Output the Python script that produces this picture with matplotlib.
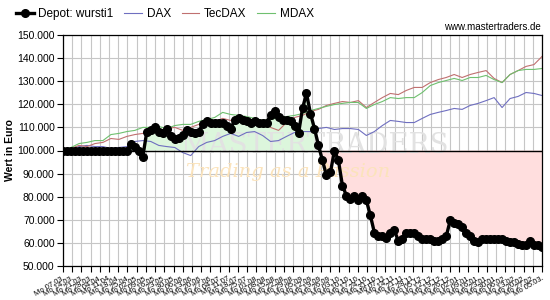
import numpy as np
import pandas as pd
import matplotlib
matplotlib.use('Agg')
import matplotlib.pyplot as plt

plt.rcParams.update({
    'font.family': ['Liberation Sans', 'DejaVu Sans'],
    'font.size': 7.5,
})

# ── Data (values in Euro) ────────────────────────────────────────────────────
depot = [
    100000, 100000, 100000, 100000, 100000, 100000, 100000, 100000, 100000, 100000,
    100000, 100000, 100000, 100000, 100000, 100000, 100000, 103000, 101700, 100000,
    97400, 108200, 108700, 110000, 108200, 107400, 109100, 106100, 104800, 105600,
    106500, 108700, 108200, 107400, 108200, 111300, 112600, 112100, 111700, 112100,
    111700, 110400, 109100, 113400, 113900, 113000, 112600, 112100, 112600, 112100,
    111700, 112100, 115200, 116900, 114700, 113400, 113000, 112600, 110400, 107400,
    118200, 124700, 116000, 109500, 102200, 95700, 89200, 90500, 100000, 95700,
    84800, 80500, 79200, 80500, 78400, 80100, 78400, 71900, 64500, 62800,
    63200, 62300, 64100, 65400, 61000, 61900, 64100, 64500, 64500, 62800,
    61900, 61900, 61900, 61000, 61000, 61500, 62800, 69700, 68400, 68000,
    66700, 64500, 62800, 61000, 60200, 61500, 61900, 61900, 61900, 61500,
    61500, 61000, 60200, 60600, 59700, 59300, 59300, 61000, 59300, 58900,
    58400,
]

dax = [
    100000, 100400, 101700, 102200, 101700, 101700, 100900, 101300, 101700, 103900,
    104300, 103900, 102200, 101700, 101300, 99100, 97800, 101700, 103500, 104300,
    106100, 107400, 106100, 107800, 108200, 106500, 103900, 104300, 106100, 107800,
    108200, 108200, 109500, 110000, 109100, 109500, 109500, 109100, 106500, 108200,
    110800, 113000, 112600, 112100, 112100, 113900, 115600, 116500, 117300, 118200,
    117800, 119500, 120400, 121600, 122900, 118600, 122500, 123400, 125100, 124700,
    123800,
]

tecdax = [
    100000, 100900, 102200, 101700, 103000, 103500, 105200, 104800, 106100, 106900,
    107400, 108200, 108700, 109500, 110000, 108700, 110000, 111300, 111700, 112600,
    113900, 113000, 114300, 113900, 113000, 112600, 110000, 108700, 112100, 114300,
    115200, 116900, 117800, 119500, 120400, 121200, 120800, 121600, 118600, 120800,
    122900, 124700, 124200, 126000, 127300, 127300, 129400, 130700, 131600, 132900,
    131600, 132900, 133800, 134600, 131200, 129400, 132900, 134600, 136400, 137200,
    140700,
]

mdax = [
    100000, 101300, 103000, 103500, 104300, 104300, 106900, 107400, 108200, 108700,
    110000, 110000, 110400, 109500, 110800, 111300, 111300, 112600, 113400, 114300,
    116500, 115600, 115200, 114700, 113900, 113000, 113400, 114300, 114700, 115200,
    116000, 117300, 118200, 119100, 119900, 120400, 120800, 120800, 118200, 119900,
    121200, 122900, 122500, 122900, 122900, 125100, 128100, 129400, 130300, 131200,
    130300, 131600, 131600, 132500, 130700, 129400, 132900, 134600, 135100, 135100,
    135500,
]

week_dates = pd.date_range('2011-03-07', periods=53, freq='7D')
tick_labels = ['Mo ' + d.strftime('%d.%m.') for d in week_dates]

y_ticks = [50000, 60000, 70000, 80000, 90000, 100000,
           110000, 120000, 130000, 140000, 150000]
y_tick_labels = [f'{v:,}'.replace(',', '.') for v in y_ticks]

# ── Colours ──────────────────────────────────────────────────────────────────
C_DAX = '#6f6fc0'
C_TEC = '#c07070'
C_MDAX = '#6fc06f'
FILL_UP = '#dcf6dc'
FILL_DN = '#ffdede'
GRID = '#c6c6c6'

n_weeks = len(tick_labels) - 1
x_dep = np.linspace(0, n_weeks, len(depot))
x_idx = np.linspace(0, n_weeks, len(dax))
dep = np.array(depot)

fig = plt.figure(figsize=(5.5, 3.0), dpi=100)
ax = fig.add_axes([63 / 550, 34 / 300, 479 / 550, 231 / 300])

ax.fill_between(x_dep, dep, 100000, where=dep >= 100000, interpolate=True,
                color=FILL_UP, lw=0, zorder=1)
ax.fill_between(x_dep, dep, 100000, where=dep <= 100000, interpolate=True,
                color=FILL_DN, lw=0, zorder=1)

# watermark
ax.text(0.526, 0.52, 'MASTERTRADERS', transform=ax.transAxes, ha='center',
        va='center', fontsize=20, family='DejaVu Serif', color='#e2e2e2',
        zorder=1.5)
ax.text(0.47, 0.405, 'Trading as a Passion', transform=ax.transAxes,
        ha='center', va='center', fontsize=14, family='DejaVu Serif',
        style='italic', color='#fbe3bb', zorder=1.5)

ax.plot(x_idx, dax, color=C_DAX, lw=0.8, zorder=2, label='DAX')
ax.plot(x_idx, tecdax, color=C_TEC, lw=0.8, zorder=2, label='TecDAX')
ax.plot(x_idx, mdax, color=C_MDAX, lw=0.8, zorder=2, label='MDAX')
ax.axhline(100000, color='black', lw=1, zorder=3)
dep_line, = ax.plot(x_dep, dep, '-o', color='black', lw=2.4, markersize=5.5,
                    zorder=4, label='Depot: wursti1')

ax.set_xlim(0, n_weeks)
ax.set_ylim(50000, 150000)
ax.set_yticks(y_ticks)
ax.set_yticklabels(y_tick_labels)
ax.set_xticks(np.arange(len(tick_labels)))
ax.set_xticklabels(tick_labels, rotation=30, ha='right',
                   rotation_mode='anchor', fontsize=5.5)
ax.tick_params(axis='both', direction='out', length=4, width=0.8,
               colors='black', pad=2)
ax.grid(True, color=GRID, lw=0.8, zorder=0)
ax.set_axisbelow(True)
for sp in ax.spines.values():
    sp.set_linewidth(0.9)
    sp.set_color('black')

fig.text(10 / 550, (300 - 150) / 300, 'Wert in Euro', rotation=90,
         ha='center', va='center', fontsize=7.5, fontweight='bold')
fig.text(541 / 550, 1 - 27 / 300, 'www.mastertraders.de', ha='right',
         va='center', fontsize=7)

handles = [dep_line] + ax.get_lines()[:3]
fig.legend(handles, [h.get_label() for h in handles], ncol=4,
           loc='upper left', bbox_to_anchor=(16 / 550, 1 - 8 / 300),
           frameon=False, fontsize=8.5, handlelength=1.5, handletextpad=0.4,
           columnspacing=0.9, borderpad=0, borderaxespad=0)

fig.savefig('out.png', dpi=100)
